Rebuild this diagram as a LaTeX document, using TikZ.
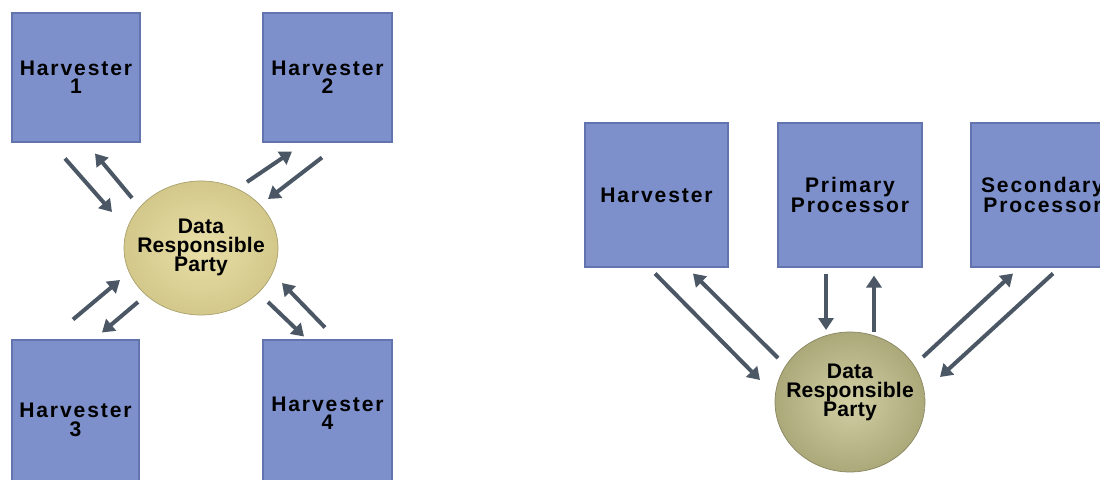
\documentclass[tikz,border=0pt]{standalone}
\usepackage{fontspec}
\setmainfont{Liberation Sans}[LetterSpace=9]
\newfontfamily\drpfont{Liberation Sans}[LetterSpace=1]
\usepackage{tikz}
\usetikzlibrary{arrows.meta,shapes,shapes.geometric}
\usetikzlibrary{positioning}
\definecolor{boxblue}{HTML}{7D90CB}
\definecolor{boxedge}{HTML}{6273AE}
\definecolor{drpin}{HTML}{E8DFA8}
\definecolor{drpout}{HTML}{D3C88A}
\definecolor{drpinb}{HTML}{D2CFA4}
\definecolor{drpoutb}{HTML}{ABA87A}
\definecolor{flowgray}{HTML}{4B5765}

\begin{document}
\begin{tikzpicture}[x=0.02cm,y=-0.02cm]
\tikzstyle{every node}=[font=\bfseries\fontsize{12}{10.5}\selectfont,align=center,inner sep=0pt];
\tikzstyle{party}=[rectangle,fill=boxblue,draw=boxedge,line width=0.6pt];
\tikzstyle{drp}=[ellipse,draw=drpout!80!black,line width=0.4pt,inner color=drpin,outer color=drpout];
\tikzstyle{drptext}=[font=\drpfont\bfseries\fontsize{12}{10.8}\selectfont];
\tikzstyle{flow}=[draw=flowgray,line width=0.08cm,-{Triangle[width=0.3cm,length=0.24cm]}];

\useasboundingbox (0,0) rectangle (1100,480);
\clip (0,0) rectangle (1100,480);

% left: four harvesters round one party
\node[party,minimum width=2.56cm,minimum height=2.58cm] (h1) at (76,77.5) {Harvester\\1};
\node[party,minimum width=2.58cm,minimum height=2.58cm] (h2) at (327.5,77.5) {Harvester\\2};
\node[party,minimum width=2.54cm,minimum height=3.2cm] (h3) at (75.5,420) {Harvester\\3};
\node[party,minimum width=2.58cm,minimum height=2.92cm] (h4) at (327.5,413) {Harvester\\4};
\node[drp,minimum width=3.08cm,minimum height=2.68cm,
  label={[drptext,yshift=0.02cm]center:Data\\Responsible\\Party}] (drpL) at (201,248) {};

\path[draw] [flow] ([shift={(-11,16)}]h1.south) -- ([shift={(-89,-36)}]drpL.center);
\path[draw] [flow] ([shift={(-69,-50)}]drpL.center) -- ([shift={(19,11)}]h1.south);
\path[draw] [flow] ([shift={(46,-66)}]drpL.center) -- ([shift={(-35.5,9)}]h2.south);
\path[draw] [flow] ([shift={(-5.5,15)}]h2.south) -- ([shift={(67,-49)}]drpL.center);
\path[draw] [flow] ([shift={(-2.5,-20)}]h3.north) -- ([shift={(-81,32)}]drpL.center);
\path[draw] [flow] ([shift={(-63,54)}]drpL.center) -- ([shift={(26.5,-7)}]h3.north);
\path[draw] [flow] ([shift={(67,54)}]drpL.center) -- ([shift={(-23.5,-3)}]h4.north);
\path[draw] [flow] ([shift={(-2.5,-12)}]h4.north) -- ([shift={(81,35)}]drpL.center);

% right: harvester and processors
\node[party,minimum width=2.86cm,minimum height=2.88cm] (hv) at (656.5,195) {Harvester};
\node[party,minimum width=2.88cm,minimum height=2.88cm] (pp) at (850,195) {Primary\\Processor};
\node[party,minimum width=2.86cm,minimum height=2.88cm] (sp) at (1042.5,195) {Secondary\\Processor};
\node[drp,inner color=drpinb,outer color=drpoutb,draw=drpoutb!80!black,minimum width=3cm,minimum height=2.8cm,
  label={[drptext,yshift=0.2cm]center:Data\\Responsible\\Party}] (drpR) at (850,402) {};

\path[draw] [flow] ([shift={(-1.5,6)}]hv.south) -- ([shift={(-90,-22)}]drpR.center);
\path[draw] [flow] ([shift={(-72,-44)}]drpR.center) -- ([shift={(36.5,6)}]hv.south);
\path[draw] [flow] ([shift={(-24,6)}]pp.south) -- ([shift={(-24,-72)}]drpR.center);
\path[draw] [flow] ([shift={(24,-70)}]drpR.center) -- ([shift={(24,8)}]pp.south);
\path[draw] [flow] ([shift={(73,-45)}]drpR.center) -- ([shift={(-29.5,6)}]sp.south);
\path[draw] [flow] ([shift={(10.5,6)}]sp.south) -- ([shift={(90,-25)}]drpR.center);
\end{tikzpicture}
\end{document}
